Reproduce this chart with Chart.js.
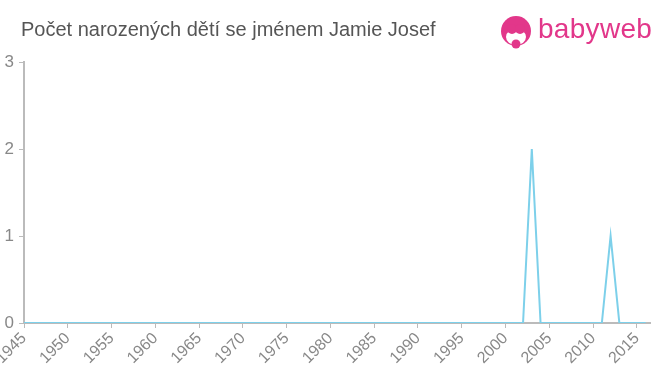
<!DOCTYPE html>
<html>
<head>
<meta charset="utf-8">
<script src="https://cdn.jsdelivr.net/npm/chart.js@4"></script>
<style>
  html, body { margin: 0; padding: 0; background: #fff; }
  #wrap { position: relative; width: 660px; height: 375px; overflow: hidden; }
  #title {
    position: absolute; left: 21px; top: 18px;
    font: 20px "Liberation Sans", Arial, sans-serif; color: #555;
    white-space: nowrap;
  }
  #logo { position: absolute; left: 498px; top: 14px; }
  #logoText {
    position: absolute; left: 538px; top: 13px;
    font: 28px "Liberation Sans", Arial, sans-serif; color: #e2378a;
    letter-spacing: 0.3px;
  }
  #chart { position: absolute; left: 0; top: 0; }
</style>
</head>
<body>
<div id="wrap">
  <canvas id="chart" width="660" height="375"></canvas>
  <div id="title">Počet narozených dětí se jménem Jamie Josef</div>
  <canvas id="logo" width="36" height="36"></canvas>
  <div id="logoText">babyweb</div>
</div>
<script>
const years = [
  1945, 1946, 1947, 1948, 1949, 1950, 1951, 1952, 1953, 1954,
  1955, 1956, 1957, 1958, 1959, 1960, 1961, 1962, 1963, 1964,
  1965, 1966, 1967, 1968, 1969, 1970, 1971, 1972, 1973, 1974,
  1975, 1976, 1977, 1978, 1979, 1980, 1981, 1982, 1983, 1984,
  1985, 1986, 1987, 1988, 1989, 1990, 1991, 1992, 1993, 1994,
  1995, 1996, 1997, 1998, 1999, 2000, 2001, 2002, 2003, 2004,
  2005, 2006, 2007, 2008, 2009, 2010, 2011, 2012, 2013, 2014,
  2015, 2016
];
const births = [
  0, 0, 0, 0, 0, 0, 0, 0, 0, 0,
  0, 0, 0, 0, 0, 0, 0, 0, 0, 0,
  0, 0, 0, 0, 0, 0, 0, 0, 0, 0,
  0, 0, 0, 0, 0, 0, 0, 0, 0, 0,
  0, 0, 0, 0, 0, 0, 0, 0, 0, 0,
  0, 0, 0, 0, 0, 0, 0, 0, 2, 0,
  0, 0, 0, 0, 0, 0, 0, 1, 0, 0,
  0, 0
];
const xTicks = [1945, 1950, 1955, 1960, 1965, 1970, 1975, 1980, 1985, 1990, 1995, 2000, 2005, 2010, 2015];
const yTicks = [0, 1, 2, 3];

// logo mark
const lg = document.getElementById('logo').getContext('2d');
lg.fillStyle = '#e2378a';
lg.beginPath(); lg.arc(18, 17, 15, 0, Math.PI * 2); lg.fill();
lg.fillStyle = '#fff';
lg.beginPath(); lg.ellipse(18, 23, 10, 8, 0, 0, Math.PI * 2); lg.fill();
lg.fillStyle = '#e2378a';
lg.beginPath(); lg.arc(14, 15, 5, 0, Math.PI * 2); lg.fill();
lg.beginPath(); lg.arc(22, 15, 5, 0, Math.PI * 2); lg.fill();
lg.beginPath(); lg.arc(18, 30, 4.5, 0, Math.PI * 2); lg.fill();

const axisColor = '#bbb';
const labelColor = '#888';

new Chart(document.getElementById('chart'), {
  type: 'line',
  data: {
    datasets: [{
      data: years.map((y, i) => ({ x: y, y: births[i] })),
      borderColor: '#7dd0ea',
      borderWidth: 2,
      pointRadius: 0,
      tension: 0,
      fill: false,
    }],
  },
  options: {
    responsive: false,
    animation: false,
    layout: { padding: { top: 62, right: 10, left: 0, bottom: 0 } },
    plugins: { legend: { display: false }, tooltip: { enabled: false } },
    scales: {
      x: {
        type: 'linear',
        min: 1945,
        max: 2016.5,
        afterBuildTicks: (scale) => { scale.ticks = xTicks.map((v) => ({ value: v })); },
        afterFit: (scale) => { scale.height = 52; scale.paddingLeft = 0; scale.paddingRight = 0; },
        grid: { drawOnChartArea: false, drawTicks: true, tickLength: 5, color: axisColor },
        border: { color: axisColor, width: 2 },
        ticks: {
          autoSkip: false,
          minRotation: 45,
          maxRotation: 45,
          padding: 1,
          color: labelColor,
          font: { family: '"Liberation Sans", Arial, sans-serif', size: 16 },
          callback: (v) => String(v),
        },
      },
      y: {
        min: 0,
        max: 3,
        afterBuildTicks: (scale) => { scale.ticks = yTicks.map((v) => ({ value: v })); },
        afterFit: (scale) => { scale.width = 24; },
        grid: { drawOnChartArea: false, drawTicks: true, tickLength: 5, color: axisColor },
        border: { color: axisColor, width: 2 },
        ticks: {
          padding: 5,
          color: labelColor,
          font: { family: '"Liberation Sans", Arial, sans-serif', size: 17 },
        },
      },
    },
  },
});
</script>
</body>
</html>
